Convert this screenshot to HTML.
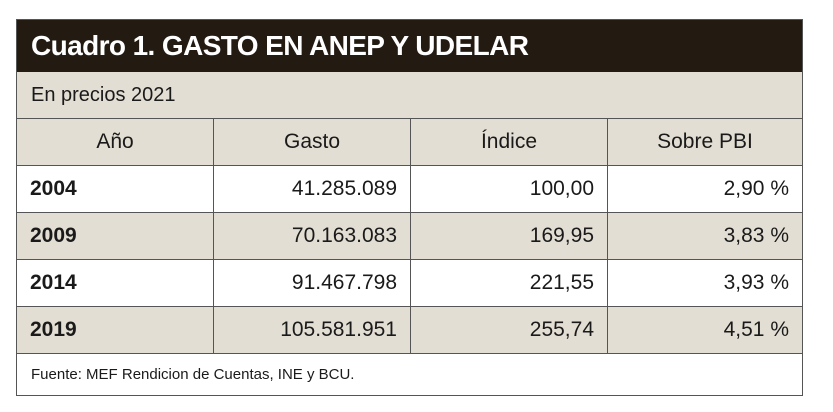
<!DOCTYPE html>
<html><head><meta charset="utf-8"><style>
body{margin:0;width:833px;height:412px;background:#fff;font-family:"Liberation Sans",sans-serif;color:#1a1a1a;position:relative;overflow:hidden}
.box{position:absolute;left:16px;top:19px;width:787px;height:377px;border:1px solid #555;box-sizing:border-box}
.title{position:absolute;left:0;top:0;width:785px;height:52px;background:#231a12;color:#fff;font-weight:bold;font-size:28px;line-height:52px;padding-left:14px;box-sizing:border-box;letter-spacing:-0.6px}
.sub{position:absolute;left:0;top:52px;width:785px;height:47px;background:#e3ded3;border-bottom:1px solid #555;font-size:20px;line-height:46px;padding-left:14px;box-sizing:border-box}
.row{position:absolute;left:0;width:785px;height:47px;border-bottom:1px solid #555;box-sizing:border-box;display:flex}
.row div{height:100%;border-right:1px solid #555;box-sizing:border-box;font-size:21px;line-height:46px;padding:0 13px}
.row div:last-child{border-right:none}
.c1{width:197px}.c2{width:197px;text-align:right}.c3{width:197px;text-align:right}.c4{width:194px;text-align:right}
.hd div{text-align:center}
.yr{font-weight:bold}
.foot{position:absolute;left:0;top:335px;width:785px;height:40px;font-size:15px;line-height:40px;padding-left:14px;box-sizing:border-box}
</style></head><body>
<div class="box">
<div class="title">Cuadro 1. GASTO EN ANEP Y UDELAR</div>
<div class="sub">En precios 2021</div>
<div class="row hd" style="top:99px;background:#e3ded3"><div class="c1">Año</div><div class="c2" style="text-align:center">Gasto</div><div class="c3" style="text-align:center">Índice</div><div class="c4" style="text-align:center">Sobre PBI</div></div>
<div class="row" style="top:146px;background:#fff"><div class="c1 yr">2004</div><div class="c2">41.285.089</div><div class="c3">100,00</div><div class="c4">2,90 %</div></div>
<div class="row" style="top:193px;background:#e3ded3"><div class="c1 yr">2009</div><div class="c2">70.163.083</div><div class="c3">169,95</div><div class="c4">3,83 %</div></div>
<div class="row" style="top:240px;background:#fff"><div class="c1 yr">2014</div><div class="c2">91.467.798</div><div class="c3">221,55</div><div class="c4">3,93 %</div></div>
<div class="row" style="top:287px;background:#e3ded3"><div class="c1 yr">2019</div><div class="c2">105.581.951</div><div class="c3">255,74</div><div class="c4">4,51 %</div></div>
<div class="foot">Fuente: MEF Rendicion de Cuentas, INE y BCU.</div>
</div>
</body></html>
